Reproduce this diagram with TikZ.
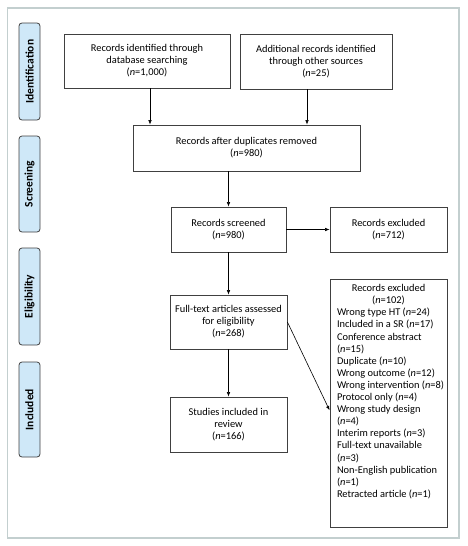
\documentclass[tikz,border=0pt]{standalone}
\usepackage{fontspec}
\setmainfont{Carlito}
\usetikzlibrary{arrows.meta}
\definecolor{framec}{HTML}{C3CFCF}
\definecolor{tabfill}{HTML}{CFE8F8}
\definecolor{boxc}{HTML}{404040}
\newcommand{\nn}{\textit{n}}
\tikzset{
  box/.style={draw=boxc, line width=0.8pt, fill=white, align=center, inner sep=2pt,
    font=\fontsize{10.4pt}{12.1pt}\selectfont},
  tab/.style={draw=boxc, line width=0.8pt, fill=tabfill, rounded corners=3pt, rotate=90,
    minimum height=21pt, inner sep=0pt, font=\fontsize{11.5pt}{12pt}\selectfont\bfseries},
  arr/.style={draw=black, line width=0.6pt, -{Latex[length=4.5pt,width=3.5pt]}}
}
\begin{document}
\begin{tikzpicture}[x=1pt,y=-1pt]
\useasboundingbox (0,0) rectangle (468,546);
\draw[framec, line width=1.5pt] (7.5,8) rectangle (459,538);
% side tabs
\node[tab, minimum width=97pt] (tid) at (29.5,71.5) {Identification};
\node[tab, minimum width=96pt] (tsc) at (29.5,184) {Screening};
\node[tab, minimum width=97pt] (tel) at (29.5,296.5) {Eligibility};
\node[tab, minimum width=95pt] (tin) at (29.5,409.5) {Included};
% boxes
\node[box, minimum width=166pt, minimum height=54pt] (b1) at (147,61) {Records identified through\\database searching\\(\nn=1,000)};
\node[box, minimum width=152pt, minimum height=55pt] (b2) at (316,61.5) {Additional records identified\\through other sources\\(\nn=25)};
\node[box, minimum width=227pt, minimum height=46pt] (b3) at (246.5,148) {Records after duplicates removed\\(\nn=980)};
\node[box, minimum width=115pt, minimum height=45pt] (b4) at (228.5,229.5) {Records screened\\(\nn=980)};
\node[box, minimum width=117pt, minimum height=45pt] (b5) at (388.5,229.5) {Records excluded\\(\nn=712)};
\node[box, minimum width=117pt, minimum height=54pt] (b6) at (228.5,322) {Full-text articles assessed\\for eligibility\\(\nn=268)};
\node[box, minimum width=117pt, minimum height=55pt] (b8) at (228.5,424.5) {Studies included in\\review\\(\nn=166)};
\node[box, anchor=north, inner xsep=7pt, inner ysep=5pt, align=left] (b7) at (388.5,279)
 {\parbox[c][238pt][t]{103pt}{\centering Records excluded\\(\nn=102)\par\raggedright\hbadness=10000
 Wrong type HT (\nn=24)\\
 Included in a SR (\nn=17)\\
 Conference abstract\\
 (\nn=15)\\
 Duplicate (\nn=10)\\
 Wrong outcome (\nn=12)\\
 \makebox[103pt][l]{Wrong intervention (\nn=8)}\\
 Protocol only (\nn=4)\\
 Wrong study design\\
 (\nn=4)\\
 Interim reports (\nn=3)\\
 Full-text unavailable\\
 (\nn=3)\\
 \makebox[103pt][l]{Non-English publication}\\
 (\nn=1)\\
 Retracted article (\nn=1)}};
% connectors
\draw[arr] ([xshift=3pt]b1.south) -- ([xshift=3pt]b1.south |- b3.north);
\draw[arr] ([xshift=-9pt]b2.south) -- ([xshift=-9pt]b2.south |- b3.north);
\draw[arr] (b4.north |- b3.south) -- (b4.north);
\draw[arr] (b4.east) -- (b5.west);
\draw[arr] (b4.south) -- (b6.north);
\draw[arr] (b6.south) -- (b8.north);
\draw[arr] (b6.east) -- ([yshift=-7pt]b7.west);
\end{tikzpicture}
\end{document}
